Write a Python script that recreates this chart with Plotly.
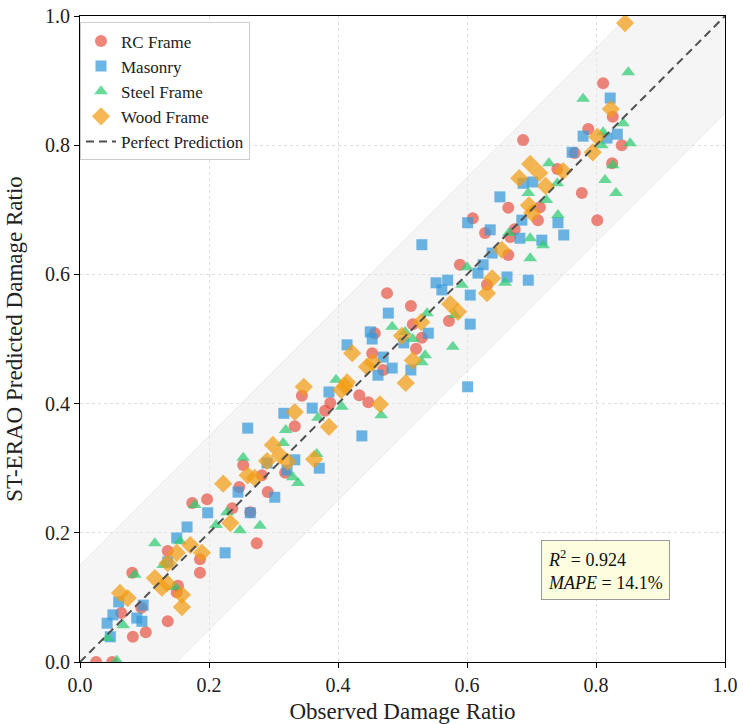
import plotly.graph_objects as go

# ---------------- data ----------------
rc_x = [0.025, 0.050, 0.082, 0.102, 0.136, 0.081, 0.186, 0.186, 0.136, 0.150, 0.152, 0.064, 0.095,
        0.174, 0.197, 0.274, 0.253, 0.282, 0.291, 0.247, 0.236, 0.264, 0.318, 0.333, 0.344, 0.380,
        0.388, 0.433, 0.447, 0.453, 0.457, 0.470, 0.476, 0.513, 0.516, 0.521, 0.530, 0.572, 0.589,
        0.631, 0.628, 0.609, 0.664, 0.713, 0.710, 0.674, 0.667, 0.664, 0.687, 0.740, 0.767, 0.778,
        0.802, 0.825, 0.840, 0.811, 0.826, 0.788]
rc_y = [0.000, 0.000, 0.039, 0.046, 0.063, 0.138, 0.138, 0.159, 0.172, 0.108, 0.118, 0.076, 0.084,
        0.246, 0.252, 0.184, 0.305, 0.289, 0.263, 0.271, 0.238, 0.232, 0.293, 0.365, 0.412, 0.389,
        0.401, 0.413, 0.402, 0.478, 0.509, 0.452, 0.571, 0.551, 0.523, 0.485, 0.502, 0.528, 0.615,
        0.584, 0.664, 0.687, 0.703, 0.704, 0.684, 0.670, 0.658, 0.630, 0.808, 0.763, 0.788, 0.726,
        0.684, 0.772, 0.800, 0.896, 0.844, 0.825]

mas_x = [0.047, 0.042, 0.051, 0.060, 0.088, 0.096, 0.098, 0.136, 0.150, 0.166, 0.198, 0.225, 0.245,
         0.264, 0.260, 0.302, 0.321, 0.333, 0.371, 0.316, 0.360, 0.386, 0.437, 0.290, 0.414, 0.450,
         0.453, 0.462, 0.470, 0.484, 0.478, 0.502, 0.513, 0.540, 0.530, 0.552, 0.570, 0.561, 0.605,
         0.605, 0.601, 0.617, 0.625, 0.601, 0.636, 0.639, 0.662, 0.695, 0.651, 0.687, 0.702, 0.685,
         0.682, 0.716, 0.741, 0.750, 0.763, 0.780, 0.817, 0.833, 0.822]
mas_y = [0.039, 0.060, 0.073, 0.093, 0.068, 0.063, 0.088, 0.155, 0.192, 0.209, 0.231, 0.169, 0.263,
         0.231, 0.362, 0.255, 0.297, 0.313, 0.300, 0.385, 0.393, 0.418, 0.350, 0.308, 0.491, 0.511,
         0.500, 0.444, 0.472, 0.455, 0.540, 0.494, 0.452, 0.509, 0.646, 0.587, 0.591, 0.576, 0.568,
         0.523, 0.426, 0.602, 0.615, 0.680, 0.669, 0.633, 0.596, 0.591, 0.720, 0.741, 0.743, 0.684,
         0.656, 0.653, 0.680, 0.661, 0.789, 0.814, 0.811, 0.817, 0.873]

steel_x = [0.057, 0.043, 0.067, 0.085, 0.129, 0.147, 0.116, 0.155, 0.178, 0.211, 0.228, 0.248, 0.279,
           0.253, 0.330, 0.338, 0.315, 0.319, 0.367, 0.369, 0.406, 0.397, 0.467, 0.484, 0.504, 0.516,
           0.530, 0.535, 0.538, 0.578, 0.592, 0.600, 0.659, 0.665, 0.698, 0.718, 0.698, 0.741, 0.695,
           0.723, 0.727, 0.740, 0.780, 0.814, 0.831, 0.826, 0.809, 0.811, 0.842, 0.853, 0.850, 0.581]
steel_y = [0.002, 0.037, 0.057, 0.135, 0.150, 0.116, 0.184, 0.187, 0.243, 0.212, 0.232, 0.204, 0.211,
           0.316, 0.286, 0.277, 0.339, 0.359, 0.322, 0.378, 0.395, 0.437, 0.382, 0.519, 0.511, 0.500,
           0.464, 0.475, 0.540, 0.488, 0.584, 0.611, 0.587, 0.664, 0.656, 0.645, 0.625, 0.692, 0.726,
           0.715, 0.772, 0.741, 0.872, 0.746, 0.726, 0.769, 0.800, 0.820, 0.834, 0.803, 0.913, 0.537]

wood_x = [0.062, 0.074, 0.116, 0.127, 0.135, 0.158, 0.158, 0.136, 0.150, 0.171, 0.189, 0.222, 0.233,
          0.260, 0.271, 0.290, 0.299, 0.310, 0.322, 0.363, 0.333, 0.347, 0.386, 0.405, 0.411, 0.414,
          0.422, 0.445, 0.454, 0.465, 0.499, 0.505, 0.516, 0.529, 0.574, 0.586, 0.631, 0.639, 0.654,
          0.696, 0.701, 0.681, 0.698, 0.712, 0.722, 0.749, 0.795, 0.802, 0.823, 0.845]
wood_y = [0.107, 0.099, 0.130, 0.115, 0.122, 0.104, 0.085, 0.153, 0.169, 0.181, 0.169, 0.276, 0.215,
          0.289, 0.285, 0.311, 0.336, 0.320, 0.310, 0.314, 0.387, 0.426, 0.364, 0.421, 0.427, 0.433,
          0.478, 0.457, 0.464, 0.399, 0.505, 0.432, 0.467, 0.526, 0.554, 0.542, 0.571, 0.594, 0.638,
          0.707, 0.695, 0.749, 0.771, 0.757, 0.737, 0.760, 0.789, 0.813, 0.856, 0.989]

series_names = ["RC Frame", "Masonry", "Steel Frame", "Wood Frame"]
band_width = 0.15
r2_value = 0.924
mape_value = 14.1
x_ticks = [0.0, 0.2, 0.4, 0.6, 0.8, 1.0]
y_ticks = [0.0, 0.2, 0.4, 0.6, 0.8, 1.0]

# ---------------- figure ----------------
FONT = "Liberation Serif, Times New Roman, serif"
fig = go.Figure()

# confidence band (y = x +/- band_width)
diag = [0.0, 1.0]
fig.add_trace(go.Scatter(x=diag, y=[d - band_width for d in diag], mode="lines",
                         line=dict(width=0.8, color="rgba(215,215,215,0.6)"),
                         showlegend=False, hoverinfo="skip"))
fig.add_trace(go.Scatter(x=diag, y=[d + band_width for d in diag], mode="lines",
                         line=dict(width=0.8, color="rgba(215,215,215,0.6)"),
                         fill="tonexty", fillcolor="rgba(232,232,232,0.45)",
                         showlegend=False, hoverinfo="skip"))

styles = [
    ("circle", "rgba(231,76,60,0.68)", 12),
    ("square", "rgba(52,152,219,0.72)", 11),
    ("triangle-up", "rgba(46,204,113,0.72)", 12),
    ("diamond", "rgba(243,156,18,0.72)", 14),
]
data = [(rc_x, rc_y), (mas_x, mas_y), (steel_x, steel_y), (wood_x, wood_y)]
for name, (xs, ys), (sym, col, sz) in zip(series_names, data, styles):
    fig.add_trace(go.Scatter(x=xs, y=ys, mode="markers", name=name,
                             marker=dict(symbol=sym, color=col, size=sz, line=dict(width=0))))

fig.add_trace(go.Scatter(x=diag, y=diag, mode="lines", name="Perfect Prediction",
                         line=dict(color="#505050", width=2, dash="8px,5px")))

fig.add_annotation(x=0.814, y=0.142, xref="x", yref="y", showarrow=False, align="left",
                   text=f"<i>R</i><sup>2</sup> = {r2_value}<br><i>MAPE</i> = {mape_value}%",
                   font=dict(family=FONT, size=18, color="#111"),
                   bgcolor="#fdfde0", bordercolor="#999999", borderwidth=1, borderpad=6)

axis_common = dict(range=[0, 1], showline=True, linecolor="black", linewidth=1.2, mirror=True,
                   ticks="outside", ticklen=5, tickwidth=1, tickcolor="black",
                   showgrid=True, gridcolor="#dedede", griddash="dot", gridwidth=1,
                   zeroline=False, tickformat=".1f", automargin=False,
                   tickfont=dict(family=FONT, size=20, color="#222"))

fig.update_xaxes(**axis_common, tickvals=x_ticks,
                 title=dict(text="Observed Damage Ratio", font=dict(family=FONT, size=23, color="#222")))
fig.update_yaxes(**axis_common, tickvals=y_ticks,
                 title=dict(text="ST-ERAO Predicted Damage Ratio",
                            font=dict(family=FONT, size=23, color="#222")))

fig.update_layout(
    width=743, height=724,
    margin=dict(l=80, r=18, t=16, b=62),
    plot_bgcolor="white", paper_bgcolor="white",
    font=dict(family=FONT),
    legend=dict(x=0.0, y=0.99, xanchor="left", yanchor="top", traceorder="normal",
                bgcolor="rgba(255,255,255,0.9)", bordercolor="#cccccc", borderwidth=1,
                font=dict(family=FONT, size=17, color="#222"), itemwidth=30, tracegroupgap=0),
    showlegend=True,
)

fig.write_html("out.html", config={"displayModeBar": False},
               post_script="document.body.style.margin='0px';document.body.style.overflow='hidden';")
